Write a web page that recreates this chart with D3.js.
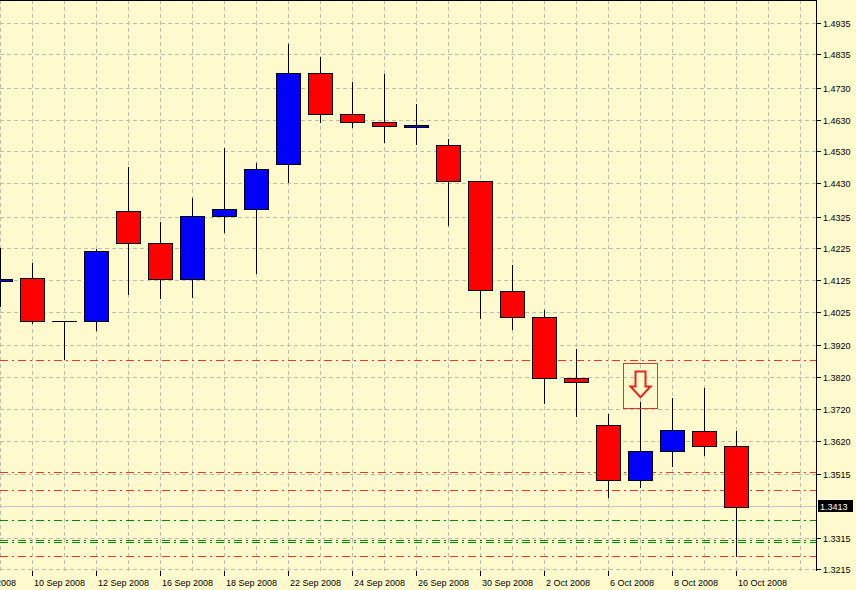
<!DOCTYPE html>
<html><head><meta charset="utf-8">
<script src="https://cdn.jsdelivr.net/npm/d3@7"></script>
<style>
html,body{margin:0;padding:0;background:#FFFACD;}
svg{display:block;}
text{font-family:"Liberation Sans",Arial,sans-serif;font-size:9px;fill:#000;}
</style></head><body>
<svg id="chart" width="856" height="590"></svg>
<script>
// ---- data (EUR/USD daily) ----
const dates = ["8 Sep 2008","9 Sep 2008","10 Sep 2008","11 Sep 2008","12 Sep 2008","15 Sep 2008","16 Sep 2008","17 Sep 2008","18 Sep 2008","19 Sep 2008","22 Sep 2008","23 Sep 2008","24 Sep 2008","25 Sep 2008","26 Sep 2008","29 Sep 2008","30 Sep 2008","1 Oct 2008","2 Oct 2008","3 Oct 2008","6 Oct 2008","7 Oct 2008","8 Oct 2008","9 Oct 2008","10 Oct 2008"];
const opens  = [null,1.4122,1.4131,1.3996,1.3996,1.4342,1.4241,1.4127,1.4326,1.4348,1.4489,1.4775,1.4646,1.4621,1.4606,1.4549,1.4436,1.4090,1.4008,1.3817,1.3668,1.3495,1.3586,1.3650,1.3602];
const highs  = [null,1.4225,1.4178,1.3997,1.4224,1.4482,1.4308,1.4382,1.4540,1.4494,1.4868,1.4828,1.4749,1.4772,1.4679,1.4569,1.4437,1.4173,1.4031,1.3908,1.3704,1.3741,1.3754,1.3786,1.3650];
const lows   = [null,1.4044,1.3989,1.3877,1.3968,1.4081,1.4070,1.4073,1.4277,1.4148,1.4434,1.4621,1.4607,1.4560,1.4553,1.4299,1.4007,1.3971,1.3739,1.3699,1.3442,1.3475,1.3541,1.3576,1.3257];
const closes = [null,1.4128,1.3996,1.3996,1.4216,1.4241,1.4127,1.4326,1.4348,1.4474,1.4775,1.4646,1.4621,1.4609,1.4612,1.4436,1.4093,1.4008,1.3816,1.3804,1.3495,1.3586,1.3653,1.3602,1.3411];
const xTickLabels = ["8 Sep 2008","10 Sep 2008","12 Sep 2008","16 Sep 2008","18 Sep 2008","22 Sep 2008","24 Sep 2008","26 Sep 2008","30 Sep 2008","2 Oct 2008","6 Oct 2008","8 Oct 2008","10 Oct 2008"];
const yTickLabels = ["1.4935","1.4835","1.4730","1.4630","1.4530","1.4430","1.4325","1.4225","1.4125","1.4025","1.3920","1.3820","1.3720","1.3620","1.3515","1.3415","1.3315","1.3215"];
const bidPrice = 1.3413;
const redLevels = [1.3874, 1.3521, 1.3466, 1.3257];
const greenLevels = [1.3370, 1.3308, 1.3301];
const arrowDate = "7 Oct 2008";
const arrowBoxTop = 1.3863, arrowBoxBottom = 1.3722;

// ---- layout ----
const W = 856, H = 590;
const plotR = 816, plotB = 571;
const svg = d3.select("#chart");
const bars = dates.map((d,i)=>({d, o:opens[i], h:highs[i], l:lows[i], c:closes[i]})).filter(b=>b.o!==null);

const x = d3.scalePoint().domain(dates).range([-32, 736]);
const step = x.step();
const y = d3.scaleLinear().domain([1.3210, 1.5006]).range([plotB, 0]);
const px = v => Math.round(v) + 0.5;

svg.append("rect").attr("width", W).attr("height", H).attr("fill", "#FFFACD");

const g = svg.append("g").attr("shape-rendering", "crispEdges");

// grid
const gridXs = [];
for (let v = x(dates[1]); v < plotR; v += step) gridXs.push(v);
g.append("g").attr("class","vgrid").selectAll("line").data(gridXs).join("line")
  .attr("x1", d=>px(d)).attr("x2", d=>px(d)).attr("y1", 0).attr("y2", plotB)
  .attr("stroke", "#bdbcae").attr("stroke-dasharray", "4,3");
g.append("g").attr("class","hgrid").selectAll("line").data(yTickLabels).join("line")
  .attr("x1", 0).attr("x2", plotR).attr("y1", d=>px(y(+d))).attr("y2", d=>px(y(+d)))
  .attr("stroke", "#bdbcae").attr("stroke-dasharray", "4,3");

// levels
g.append("g").attr("class","red-levels").selectAll("line").data(redLevels).join("line")
  .attr("x1", 0).attr("x2", plotR).attr("y1", d=>px(y(d))).attr("y2", d=>px(y(d)))
  .attr("stroke", "#ec3a1a").attr("stroke-width", 1).attr("stroke-dasharray", "8,4,2,4");
g.append("g").attr("class","green-levels").selectAll("line").data(greenLevels).join("line")
  .attr("x1", 0).attr("x2", plotR).attr("y1", d=>px(y(d))).attr("y2", d=>px(y(d)))
  .attr("stroke", "#008a00").attr("stroke-width", 1).attr("stroke-dasharray", "8,4,2,4");
g.append("line").attr("class","bid").attr("x1", 0).attr("x2", plotR)
  .attr("y1", px(y(bidPrice))).attr("y2", px(y(bidPrice))).attr("stroke", "#c4c4c4");

// candles
const cg = g.append("g").attr("class","candles");
cg.append("g").selectAll("line").data(bars).join("line")
  .attr("x1", d=>px(x(d.d))).attr("x2", d=>px(x(d.d)))
  .attr("y1", d=>Math.round(y(d.h))).attr("y2", d=>Math.round(y(d.l)) + 1)
  .attr("stroke", "#000");
const bodyTop = d => Math.round(y(Math.max(d.o,d.c)));
const bodyH = d => Math.round(y(Math.min(d.o,d.c))) - bodyTop(d);
cg.append("g").selectAll("rect").data(bars.filter(d=>bodyH(d) > 0)).join("rect")
  .attr("x", d=>Math.round(x(d.d)) - 11.5)
  .attr("width", 24)
  .attr("y", d=>bodyTop(d) + 0.5)
  .attr("height", bodyH)
  .attr("fill", d=> d.c > d.o ? "#0000ff" : "#ff0000")
  .attr("stroke", "#000");
cg.append("g").selectAll("line").data(bars.filter(d=>bodyH(d) <= 0)).join("line")
  .attr("x1", d=>Math.round(x(d.d)) - 12).attr("x2", d=>Math.round(x(d.d)) + 13)
  .attr("y1", d=>bodyTop(d) + 0.5).attr("y2", d=>bodyTop(d) + 0.5)
  .attr("stroke", "#000");

// arrow annotation
const ax = Math.round(x(arrowDate));
const bt = Math.round(y(arrowBoxTop)), bb = Math.round(y(arrowBoxBottom));
g.append("rect").attr("x", ax - 16.5).attr("y", bt + 0.5).attr("width", 34).attr("height", bb - bt)
  .attr("fill", "none").attr("stroke", "#d23a2a");
const bh = bb - bt;
const s0 = bt + bh*0.19, s1 = bt + bh*0.52, tip = bt + bh*0.76;
svg.append("path")
  .attr("d", `M${ax-4.5},${s0} L${ax+5.5},${s0} L${ax+5.5},${s1} L${ax+10.5},${s1} L${ax+0.5},${tip} L${ax-9.5},${s1} L${ax-4.5},${s1} Z`)
  .attr("fill", "#FFFACD").attr("stroke", "#e8241c").attr("stroke-width", 2).attr("stroke-linejoin", "miter");

// frame
g.append("line").attr("x1", plotR + 0.5).attr("x2", plotR + 0.5).attr("y1", 0).attr("y2", plotB).attr("stroke", "#000");
g.append("line").attr("x1", 0).attr("x2", plotR + 1).attr("y1", 0.5).attr("y2", 0.5).attr("stroke", "#000");

// right axis
const bidY = y(bidPrice);
const yl = yTickLabels.filter(d => Math.abs(y(+d) - bidY) > 8);
g.append("g").attr("class","yticks").selectAll("line").data(yl).join("line")
  .attr("x1", plotR + 1).attr("x2", plotR + 5).attr("y1", d=>px(y(+d))).attr("y2", d=>px(y(+d))).attr("stroke", "#000");
svg.append("g").attr("class","ylabels").selectAll("text").data(yl).join("text")
  .attr("x", plotR + 7).attr("y", d=>Math.round(y(+d)) + 4).text(d=>d);
svg.append("rect").attr("x", plotR + 2).attr("y", Math.round(bidY) - 6).attr("width", 35).attr("height", 12).attr("fill", "#000");
svg.append("text").attr("x", plotR + 4).attr("y", Math.round(bidY) + 4).style("fill", "#fff").text(bidPrice.toFixed(4));

// bottom axis
g.append("g").attr("class","xticks").selectAll("line").data(xTickLabels).join("line")
  .attr("x1", d=>px(x(d))).attr("x2", d=>px(x(d))).attr("y1", plotB).attr("y2", plotB + 5).attr("stroke", "#000");
svg.append("g").attr("class","xlabels").selectAll("text").data(xTickLabels).join("text")
  .attr("x", d=>Math.round(x(d)) + 2).attr("y", plotB + 15).text(d=>d);
</script>
</body></html>
